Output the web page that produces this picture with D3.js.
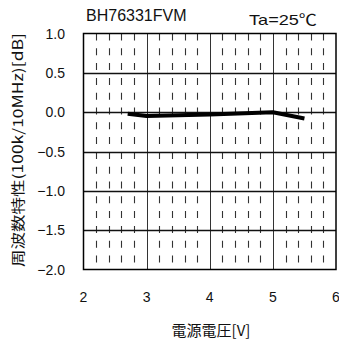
<!DOCTYPE html>
<html><head><meta charset="utf-8">
<script src="https://cdn.jsdelivr.net/npm/d3@7"></script>
<style>
body{margin:0;background:#fff;}
text{font-family:"Liberation Sans","Noto Sans CJK JP",sans-serif;fill:#111;}
</style></head>
<body><svg id="c" width="339" height="345"></svg>
<script>
const voltage = [2.7, 3.0, 4.0, 5.0, 5.5];
const response = [-0.02, -0.05, -0.03, 0.0, -0.08];
const xTicks = [2, 3, 4, 5, 6];
const yTicks = [1.0, 0.5, 0.0, -0.5, -1.0, -1.5, -2.0];
const title = "BH76331FVM";
const condition = "Ta=25℃";
const xTitle = "電源電圧[V]";
const yTitle = "周波数特性(100k/10MHz)[dB]";

const svg = d3.select("#c");
const L = 83.5, R = 336, T = 33.5, B = 269.5;
const x = d3.scaleLinear().domain([2, 6]).range([L, R]);
const y = d3.scaleLinear().domain([-2, 1]).range([B, T]);

// minor dashed verticals
const minor = d3.range(2, 6.001, 0.2).filter(v => Math.abs(v - Math.round(v)) > 1e-6);
svg.append("g").selectAll("line").data(minor).join("line")
  .attr("x1", d => Math.round(x(d)) + 0.5).attr("x2", d => Math.round(x(d)) + 0.5)
  .attr("y1", T).attr("y2", B)
  .attr("stroke", "#333").attr("stroke-width", 1.1)
  .attr("stroke-dasharray", "7,7.8");

// major grid
svg.append("g").selectAll("line").data(xTicks.slice(1, -1)).join("line")
  .attr("x1", d => Math.round(x(d)) + 0.5).attr("x2", d => Math.round(x(d)) + 0.5)
  .attr("y1", T).attr("y2", B).attr("stroke", "#333").attr("stroke-width", 1);
svg.append("g").selectAll("line").data(yTicks.slice(1, -1)).join("line")
  .attr("y1", d => Math.round(y(d)) + 0.5).attr("y2", d => Math.round(y(d)) + 0.5)
  .attr("x1", L).attr("x2", R).attr("stroke", "#111").attr("stroke-width", 1.3);

// frame
svg.append("rect").attr("x", L).attr("y", T).attr("width", R - L).attr("height", B - T)
  .attr("fill", "none").attr("stroke", "#000").attr("stroke-width", 1.5);

// data
const line = d3.line().x((d, i) => x(voltage[i])).y(d => y(d));
svg.append("path").datum(response).attr("d", line)
  .attr("fill", "none").attr("stroke", "#000").attr("stroke-width", 4)
  .attr("stroke-linejoin", "round");

// y tick labels
svg.append("g").selectAll("text").data(yTicks).join("text")
  .attr("x", 65).attr("y", d => y(d)).attr("dy", "0.36em")
  .attr("text-anchor", "end").attr("font-size", 14)
  .text(d => d3.format(".1f")(d).replace("-", "−"));

// x tick labels
svg.append("g").selectAll("text").data(xTicks).join("text")
  .attr("x", d => x(d)).attr("y", 297).attr("dy", "0.36em")
  .attr("text-anchor", "middle").attr("font-size", 14)
  .text(d => d);

// titles
svg.append("text").attr("x", 86).attr("y", 21)
  .attr("font-size", 16).text(title);
svg.append("text").attr("x", 249).attr("y", 25)
  .attr("font-size", 15).attr("textLength", 68).attr("lengthAdjust", "spacingAndGlyphs").text(condition);
svg.append("text").attr("x", 211).attr("y", 331).attr("dy", "0.36em").attr("text-anchor", "middle")
  .attr("font-size", 15).style("font-family", "'Noto Sans CJK JP',sans-serif").text(xTitle);
svg.append("text").attr("transform", "translate(18,150) rotate(-90)")
  .attr("dy", "0.36em").attr("text-anchor", "middle")
  .attr("font-size", 14).attr("textLength", 234).attr("lengthAdjust", "spacingAndGlyphs")
  .style("font-family", "'Noto Sans CJK JP',sans-serif").text(yTitle);
</script></body></html>
